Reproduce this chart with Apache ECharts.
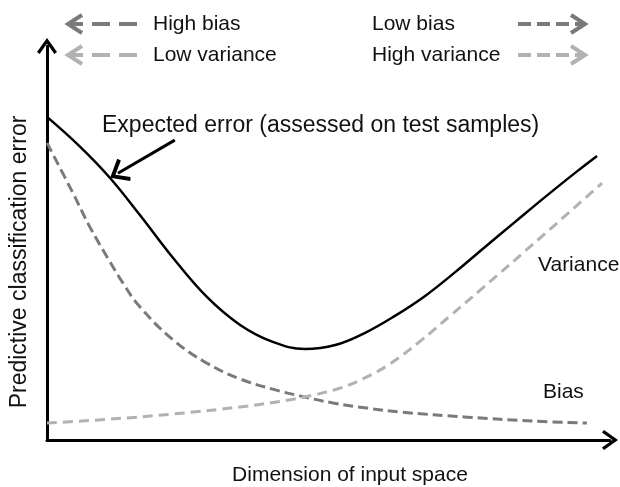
<!DOCTYPE html>
<html>
<head>
<meta charset="utf-8">
<script src="https://cdn.jsdelivr.net/npm/echarts@6/dist/echarts.min.js"></script>
<style>
  html, body { margin: 0; padding: 0; background: #fff; }
  #chart { width: 620px; height: 487px; }
</style>
</head>
<body>
<div id="chart"></div>
<script>
// dimension of input space (x) vs predictive error (y), both in arbitrary units 0..100
const errorPoints = [
  [0, 82.0], [5.9, 74.4], [11.2, 66.5], [16.5, 57.1], [22.4, 46.2], [28.4, 36.3],
  [34.3, 29.2], [40.1, 24.9], [45.8, 23.1], [51.2, 24.1], [56.5, 27.2], [61.8, 31.5],
  [67.1, 36.5], [72.5, 42.6], [77.8, 49.0], [83.1, 55.3], [88.5, 61.7], [93.8, 67.8],
  [97.7, 72.1]
]
const biasPoints = [
  [0, 75.4], [4.6, 62.7], [7.6, 54.1], [10.7, 46.4], [13.5, 39.8], [16.5, 33.8],
  [22.4, 25.4], [28.4, 19.5], [34.3, 15.5], [40.1, 12.9], [44.9, 11.2], [50.8, 9.4],
  [56.8, 8.1], [62.7, 7.1], [74.6, 5.8], [86.3, 4.8], [95.9, 4.3]
]
const variancePoints = [
  [0, 4.3], [11.2, 5.3], [22.4, 6.6], [34.3, 8.4], [43.2, 10.2], [47.3, 11.4],
  [52.1, 13.2], [56.1, 15.5], [60.9, 19.3], [66.3, 25.1], [71.6, 31.5], [77.4, 38.6],
  [87.6, 51.3], [98.6, 65.2]
]
// annotation arrow pointing at the expected error curve
const arrowFrom = [22.7, 76.1]
const arrowTo = [12.6, 67.7]

const FONT = 'Liberation Sans'
const DARK = '#7a7a7a'
const LIGHT = '#b2b2b2'
// open chevron, pointing up
const chevron = 'path://M0,14 L10,0 L20,14 L17.4,16 L10,5.4 L2.6,16 Z'

function legendArrow (x1, x2, y, color, pointLeft) {
  const tip = pointLeft ? x1 : x2
  const back = pointLeft ? tip + 14 : tip - 14
  return [
    {
      type: 'polyline',
      shape: { points: pointLeft ? [[x2, y], [x1 + 2, y]] : [[x1, y], [x2 - 2, y]] },
      style: { stroke: color, lineWidth: 4, lineDash: pointLeft ? [18, 9] : [13, 6], fill: null }
    },
    {
      type: 'polyline',
      shape: { points: [[back, y - 9], [tip, y], [back, y + 9]] },
      style: { stroke: color, lineWidth: 4, fill: null }
    }
  ]
}

function label (text, x, y, size, align, rotation) {
  return {
    type: 'text',
    x: x,
    y: y,
    rotation: rotation || 0,
    style: { text: text, fill: '#111', font: size + 'px "' + FONT + '"', align: align || 'left', verticalAlign: 'middle' }
  }
}

const myChart = echarts.init(document.getElementById('chart'))

const option = {
  animation: false,
  backgroundColor: '#fff',
  grid: { left: 47, right: 10, top: 46, bottom: 47 },
  xAxis: {
    type: 'value',
    min: 0,
    max: 100,
    axisLine: { lineStyle: { color: '#000', width: 3 }, symbol: ['none', chevron], symbolSize: [20, 16] },
    axisTick: { show: false },
    axisLabel: { show: false },
    splitLine: { show: false }
  },
  yAxis: {
    type: 'value',
    min: 0,
    max: 100,
    axisLine: { show: true, lineStyle: { color: '#000', width: 3 }, symbol: ['none', chevron], symbolSize: [20, 16] },
    axisTick: { show: false },
    axisLabel: { show: false },
    splitLine: { show: false }
  },
  series: [
    {
      name: 'Bias',
      type: 'line',
      smooth: 0.4,
      symbol: 'none',
      data: biasPoints,
      lineStyle: { color: DARK, width: 3, type: [10, 5] }
    },
    {
      name: 'Variance',
      type: 'line',
      smooth: 0.4,
      symbol: 'none',
      data: variancePoints,
      lineStyle: { color: LIGHT, width: 3, type: [10, 6] }
    },
    {
      name: 'Expected error',
      type: 'line',
      smooth: 0.4,
      symbol: 'none',
      data: errorPoints,
      lineStyle: { color: '#000', width: 2.5 },
      markLine: {
        silent: true,
        symbol: ['none', chevron],
        symbolSize: [26, 18],
        label: { show: false },
        lineStyle: { color: '#000', width: 3, type: 'solid' },
        data: [[{ coord: arrowFrom }, { coord: arrowTo }]]
      }
    }
  ],
  graphic: [
    ...legendArrow(68, 137, 24, DARK, true),
    ...legendArrow(68, 137, 55, LIGHT, true),
    ...legendArrow(518, 585, 24, DARK, false),
    ...legendArrow(518, 585, 55, LIGHT, false),
    label('High bias', 153, 24, 21),
    label('Low variance', 153, 55, 21),
    label('Low bias', 372, 24, 21),
    label('High variance', 372, 55, 21),
    label('Expected error (assessed on test samples)', 102, 126, 23),
    label('Variance', 538, 265, 21),
    label('Bias', 543, 392, 21),
    label('Dimension of input space', 350, 475, 21, 'center'),
    label('Predictive classification error', 20, 262, 23, 'center', Math.PI / 2)
  ]
}

myChart.setOption(option)
window.addEventListener('resize', () => myChart.resize())
</script>
</body>
</html>
